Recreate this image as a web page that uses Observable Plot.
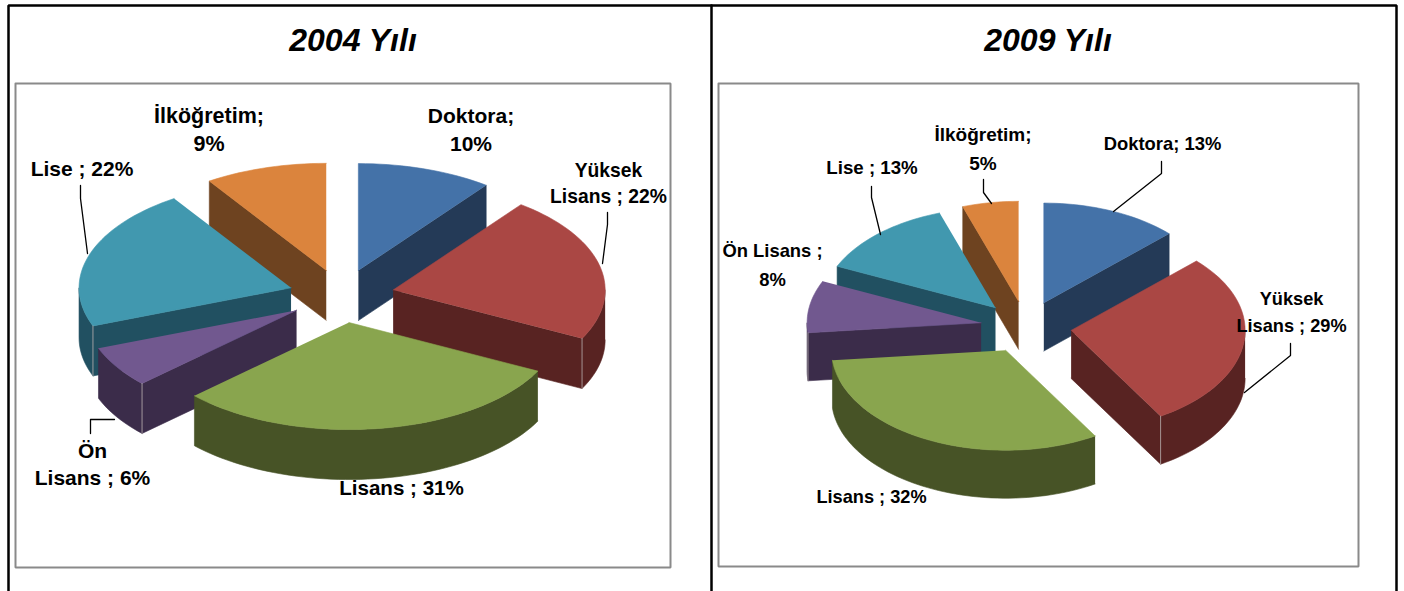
<!DOCTYPE html>
<html lang="tr">
<head>
<meta charset="utf-8">
<style>html,body{margin:0;padding:0;background:#fff}</style>
<script src="https://cdn.jsdelivr.net/npm/d3@7"></script>
<script src="https://cdn.jsdelivr.net/npm/@observablehq/plot@0.6"></script>
</head>
<body>
<div id="chart"></div>
<script>
// ---- data (shares; labels show them rounded) ----
const categories = ["Doktora", "Yüksek Lisans", "Lisans", "Ön Lisans", "Lise", "İlköğretim"];
const values2004 = [10.3, 22.2, 30.5, 6.2, 21.5, 9.3];
const values2009 = [12.8, 28.6, 32, 8.4, 13, 5.2];
const titles = ["2004 Yılı", "2009 Yılı"];
const labelLines2004 = [["Doktora;", "10%"], ["Yüksek", "Lisans ; 22%"], ["Lisans ; 31%"], ["Ön", "Lisans ; 6%"], ["Lise ; 22%"], ["İlköğretim;", "9%"]];
const labelLines2009 = [["Doktora; 13%"], ["Yüksek", "Lisans ; 29%"], ["Lisans ; 32%"], ["Ön Lisans ;", "8%"], ["Lise ; 13%"], ["İlköğretim;", "5%"]];

// ---- styles ----
const topColors = ["#4472A8", "#AA4744", "#89A54E", "#71588F", "#4198AF", "#DB843D"];
const sideColors = ["#243A57", "#582322", "#475326", "#3B2C4A", "#215061", "#6E4320"];

// ---- layout (pixels on the identity x/y scales) ----
const W = 1404, H = 591;
const geom2004 = {cx: 341, cy: 295.5, a: 212, b: 107, depth: 50, dx: 53, dy: 26.8};
const geom2009 = {cx: 1025.5, cy: 326.5, a: 174, b: 100, depth: 48, dx: 45.5, dy: 26};
// x, y of first row, row step, font size
const labelPos2004 = [[470.5, 116, 28, 21], [608, 170, 26, 19.3], [401, 488, 26, 20.6], [92, 451, 27, 21], [81.5, 169, 0, 21], [208.5, 116, 28, 21.5]];
const labelPos2009 = [[1162, 144, 0, 18.4], [1291, 299, 27, 18.2], [871, 497, 0, 18.2], [772, 251, 29, 18.4], [871.5, 168, 0, 18.7], [982.5, 134, 29, 19]];
const leaders = [
  [[80, 185], [80, 198], [87, 253]],
  [[607, 212], [607, 224], [602, 263]],
  [[114, 419], [90, 419], [90, 433]],
  [[1161, 161], [1161, 173], [1113, 211]],
  [[1290, 343], [1290, 355], [1244, 392]],
  [[871, 186], [871, 197], [880, 234]],
  [[983, 179], [983, 192], [991, 203]]
];
const blackLines = [
  [[8, 591], [8, 5], [1396, 5], [1396, 591]],
  [[711, 5], [711, 591]]
];
const frames = [
  [[15, 83], [670, 83], [670, 567], [15, 567], [15, 83]],
  [[718, 83], [1358, 83], [1358, 566], [718, 566], [718, 83]]
];
const titlePos = [[352.5, 40], [1047.5, 40]];

// ---- build 3D pie faces from the values ----
const rad = d => d * Math.PI / 180;
function buildPie(values, g, prefix) {
  const faces = [], edges = [];
  let acc = 0;
  const slices = values.map((v, i) => {
    const start = acc * 3.6; acc += v;
    const end = acc * 3.6, mid = (start + end) / 2;
    return {i, start, end, ax: g.cx + g.dx * Math.sin(rad(mid)), ay: g.cy - g.dy * Math.cos(rad(mid))};
  });
  slices.sort((p, q) => p.ay - q.ay);
  for (const s of slices) {
    const pt = (t, z = 0) => ({x: s.ax + g.a * Math.sin(rad(t)), y: s.ay - g.b * Math.cos(rad(t)) + z});
    const arc = (t0, t1, z = 0) => {
      const n = Math.max(2, Math.ceil((t1 - t0) / 2)), out = [];
      for (let k = 0; k <= n; k++) out.push(pt(t0 + (t1 - t0) * k / n, z));
      return out;
    };
    const apex = {x: s.ax, y: s.ay};
    const apexLow = {x: s.ax, y: s.ay + g.depth};
    const add = (id, pts, color) => pts.forEach(p => faces.push({id: `${prefix}-${s.i}-${id}`, x: p.x, y: p.y, color}));
    const side = sideColors[s.i];
    if (Math.sin(rad(s.start)) < -1e-6) add("ws", [apex, pt(s.start), pt(s.start, g.depth), apexLow], side);
    if (Math.sin(rad(s.end)) > 1e-6) add("we", [apex, pt(s.end), pt(s.end, g.depth), apexLow], side);
    const lo = Math.max(s.start, 90), hi = Math.min(s.end, 270);
    if (hi > lo) add("wa", [...arc(lo, hi), ...arc(lo, hi, g.depth).reverse()], side);
    add("top", [apex, ...arc(s.start, s.end)], topColors[s.i]);
    // pale corner where a flat radial wall meets the rim
    if (s.end > 90 && s.end < 180) [pt(s.end), pt(s.end, g.depth)].forEach(p => edges.push({id: `${prefix}-${s.i}-e`, x: p.x, y: p.y}));
    if (s.start > 180 && s.start < 270) [pt(s.start), pt(s.start, g.depth)].forEach(p => edges.push({id: `${prefix}-${s.i}-s`, x: p.x, y: p.y}));
  }
  return {faces, edges};
}
const pie2004 = buildPie(values2004, geom2004, "a");
const pie2009 = buildPie(values2009, geom2009, "b");
const faces = [...pie2004.faces, ...pie2009.faces];

const labelRows = [];
[[labelLines2004, labelPos2004], [labelLines2009, labelPos2009]].forEach(([lines, pos]) => {
  lines.forEach((rows, i) => rows.forEach((text, r) => {
    labelRows.push({text, x: pos[i][0], y: pos[i][1] + r * pos[i][2], size: pos[i][3]});
  }));
});
const toRows = polys => polys.flatMap((poly, id) => poly.map(([x, y]) => ({id, x, y})));
const sizes = [...new Set(labelRows.map(d => d.size))];

const plot = Plot.plot({
  width: W, height: H, margin: 0,
  x: {axis: null, domain: [0, W], range: [0, W]},
  y: {axis: null, domain: [0, H], range: [0, H]},
  color: {type: "identity"},
  style: {background: "#fff"},
  marks: [
    Plot.line(toRows(frames), {x: "x", y: "y", z: "id", stroke: "#8a8a8a", strokeWidth: 2, curve: "linear", strokeLinejoin: "miter"}),
    Plot.line(toRows(blackLines), {x: "x", y: "y", z: "id", stroke: "#000", strokeWidth: 2.5, curve: "linear", strokeLinejoin: "miter"}),
    Plot.line(faces, {x: "x", y: "y", z: "id", fill: "color", stroke: "color", strokeWidth: 0.6, curve: "linear"}),
    Plot.line(pie2004.edges.concat(pie2009.edges), {x: "x", y: "y", z: "id", stroke: "#b9b0b0", strokeWidth: 0.8, curve: "linear"}),
    Plot.line(toRows(leaders), {x: "x", y: "y", z: "id", stroke: "#000", strokeWidth: 1.3, curve: "linear"}),
    Plot.text(titles.map((t, i) => ({t, x: titlePos[i][0], y: titlePos[i][1]})), {
      x: "x", y: "y", text: "t", fontFamily: "Liberation Sans", fontWeight: "bold", fontStyle: "italic", fontSize: 32, fill: "#000", textAnchor: "middle", lineAnchor: "middle"
    }),
    ...sizes.map(size => Plot.text(labelRows.filter(d => d.size === size), {
      x: "x", y: "y", text: "text", fontFamily: "Liberation Sans", fontWeight: "bold", fontSize: size, fill: "#000", textAnchor: "middle", lineAnchor: "middle"
    }))
  ]
});
document.getElementById("chart").appendChild(plot);
</script>
</body>
</html>
